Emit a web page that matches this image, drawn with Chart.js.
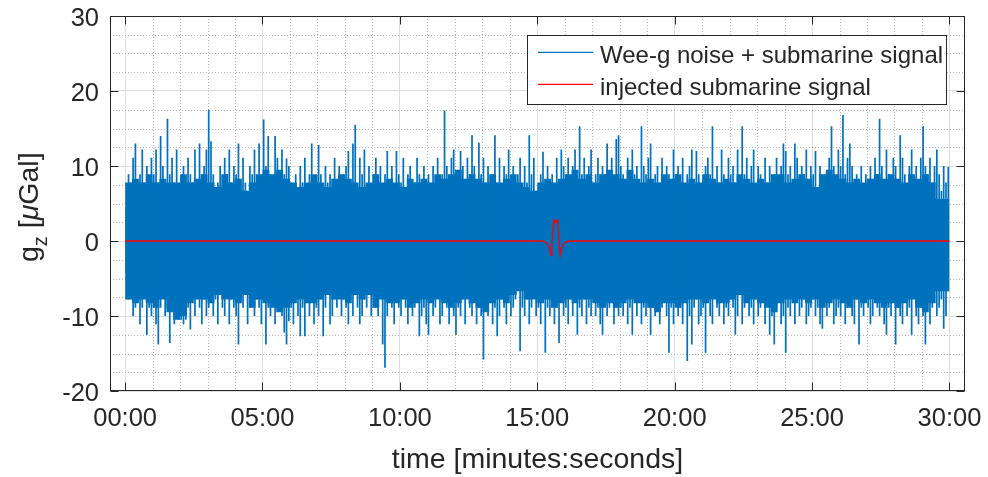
<!DOCTYPE html>
<html>
<head>
<meta charset="utf-8">
<script src="https://cdn.jsdelivr.net/npm/chart.js@4.4.1/dist/chart.umd.min.js"></script>
<style>
  html, body { margin: 0; padding: 0; background: #fff; }
  #wrap { width: 988px; height: 477px; }
</style>
</head>
<body>
<div id="wrap"><canvas id="chart" width="988" height="477"></canvas></div>
<script>
// slot widths, seconds
const SAMPLE_STEP = 5;
const BODY_STEP = 15;

// extreme of the record in each 5 s slot, µGal (00:00 .. 30:00), one row per minute
const noiseHigh = [
  4.5, 8.9, 7.8, 11.1, 13.0, 6.7, 8.9, 12.2, 7.8, 10.0, 6.7, 11.1,
  8.9, 12.2, 7.8, 14.0, 10.0, 6.7, 16.3, 8.9, 11.1, 7.8, 12.2, 6.7,
  7.8, 10.0, 5.6, 11.1, 8.9, 7.8, 12.2, 6.7, 13.0, 8.9, 10.0, 12.2,
  17.5, 13.3, 8.9, 5.6, 7.8, 10.0, 6.7, 11.1, 8.9, 12.2, 7.8, 10.0,
  8.9, 13.0, 6.7, 11.1, 7.8, 4.5, 10.0, 8.9, 12.2, 6.7, 13.0, 7.8,
  16.2, 10.0, 14.0, 8.9, 6.7, 14.0, 11.1, 7.8, 12.2, 8.9, 11.0, 10.0,
  7.8, 5.6, 8.9, 6.7, 10.0, 7.8, 11.1, 6.7, 8.9, 13.0, 3.5, 7.8,
  12.8, 8.9, 6.7, 10.0, 7.8, 8.9, 5.6, 11.1, 7.8, 10.0, 6.7, 8.9,
  10.0, 12.0, 7.8, 13.0, 15.5, 4.4, 11.1, 8.9, 12.2, 6.7, 10.0, 3.5,
  8.9, 11.1, 7.8, 10.0, 6.7, 8.9, 12.0, 7.8, 10.0, 5.6, 12.0, 8.9,
  7.8, 11.1, 6.7, 8.9, 10.0, 4.5, 7.8, 11.1, 8.9, 6.7, 10.0, 7.8,
  8.9, 5.6, 10.0, 7.8, 11.1, 6.7, 8.9, 17.4, 10.0, 7.8, 11.1, 12.2,
  8.9, 6.7, 12.0, 10.0, 7.8, 11.1, 8.9, 14.1, 10.0, 6.7, 13.1, 8.9,
  11.1, 7.8, 10.0, 5.6, 8.9, 14.1, 7.8, 11.1, 6.7, 10.0, 8.9, 12.2,
  7.8, 10.0, 6.7, 8.9, 11.1, 5.6, 10.0, 7.8, 14.1, 8.9, 11.1, 6.7,
  2.4, 8.9, 11.9, 7.8, 10.0, 5.6, 8.9, 6.7, 11.1, 7.8, 12.2, 10.0,
  8.9, 11.1, 6.7, 10.0, 12.2, 7.8, 15.3, 8.9, 11.1, 5.6, 10.0, 12.2,
  7.8, 8.9, 11.1, 6.7, 10.0, 8.9, 13.0, 7.8, 11.1, 5.6, 13.6, 14.1,
  10.0, 8.9, 6.7, 11.1, 7.8, 12.2, 8.9, 10.0, 6.7, 15.3, 10.0, 8.9,
  11.1, 13.0, 1.2, 8.9, 10.0, 7.8, 11.1, 6.7, 10.0, 8.9, 5.6, 12.2,
  8.9, 10.0, 7.8, 11.1, 6.7, 8.9, 10.0, 12.2, 7.8, 12.0, 8.9, 1.2,
  7.8, 10.0, 11.1, 8.9, 15.3, 6.7, 10.0, 7.8, 12.2, 8.9, 6.7, 11.1,
  8.9, 10.0, 7.8, 12.2, 6.7, 15.3, 8.9, 11.1, 7.8, 10.0, 12.2, 6.7,
  10.0, 8.9, 5.6, 11.1, 7.8, 10.0, 6.7, 8.9, 11.1, 7.8, 10.0, 13.0,
  12.0, 8.9, 10.0, 7.8, 13.0, 11.1, 6.7, 10.0, 8.9, 12.2, 7.8, 10.0,
  8.9, 12.0, 6.7, 10.0, 7.8, 3.5, 8.9, 11.1, 15.3, 10.0, 7.8, 12.2,
  10.0, 16.8, 8.9, 11.1, 13.0, 10.0, 7.8, 8.9, 6.7, 10.0, 3.5, 8.9,
  6.7, 10.0, 7.8, 11.1, 8.9, 16.3, 10.0, 7.8, 12.2, 8.9, 6.7, 11.1,
  10.0, 7.8, 14.1, 11.1, 8.9, 6.7, 10.0, 12.2, 7.8, 10.0, 5.6, 11.1,
  15.3, 10.0, 8.9, 11.1, 7.8, 10.0, 12.2, 8.9, 6.7, 10.0, 7.8, 9.9,
];

const noiseLow = [
  -4.0, -7.8, -6.7, -10.0, -8.9, -7.8, -11.1, -8.9, -6.7, -12.5, -8.9, -10.0,
  -7.8, -11.1, -13.8, -8.9, -6.7, -10.0, -8.9, -13.6, -7.8, -11.1, -8.9, -10.5,
  -10.5, -11.1, -10.5, -8.9, -11.8, -7.8, -10.0, -6.7, -8.9, -11.1, -7.8, -10.0,
  -8.9, -6.7, -10.0, -7.8, -11.1, -5.6, -8.9, -10.0, -6.7, -11.1, -7.8, -8.9,
  -10.0, -13.8, -7.8, -8.9, -6.7, -11.1, -8.9, -5.6, -10.0, -7.8, -8.9, -11.1,
  -7.8, -13.8, -8.9, -10.0, -6.7, -11.1, -8.9, -7.8, -10.0, -12.2, -13.8, -10.7,
  -8.9, -11.1, -7.8, -10.0, -12.7, -8.9, -12.7, -6.7, -10.0, -7.8, -11.1, -8.9,
  -10.0, -7.8, -12.7, -8.9, -6.7, -11.1, -10.0, -7.8, -8.9, -5.6, -10.0, -7.8,
  -8.9, -11.1, -7.8, -10.0, -6.7, -8.9, -11.1, -10.0, -7.8, -8.9, -5.6, -10.0,
  -7.8, -8.9, -10.0, -2.1, -13.8, -16.9, -10.0, -7.8, -8.9, -11.1, -6.7, -8.9,
  -10.0, -7.8, -8.9, -11.1, -6.7, -10.0, -8.9, -7.8, -12.7, -10.0, -8.9, -11.1,
  -12.5, -7.8, -10.0, -8.9, -6.7, -11.1, -10.0, -7.8, -8.9, -11.1, -7.8, -10.0,
  -12.5, -8.9, -10.0, -7.8, -11.1, -6.7, -8.9, -10.0, -7.8, -11.1, -8.9, -10.0,
  -15.8, -8.9, -10.0, -7.8, -11.1, -8.9, -12.7, -10.0, -7.8, -8.9, -11.1, -6.7,
  -10.0, -8.9, -7.8, -3.2, -14.7, -8.9, -10.0, -7.8, -11.1, -8.9, -6.7, -10.0,
  -8.9, -11.1, -7.8, -14.9, -8.9, -10.0, -6.7, -11.1, -8.9, -13.6, -7.8, -10.0,
  -8.9, -11.1, -7.8, -10.0, -6.7, -12.5, -8.9, -10.0, -7.8, -11.1, -8.9, -10.0,
  -7.8, -10.0, -8.9, -11.1, -12.5, -6.7, -10.0, -8.9, -7.8, -11.1, -8.9, -10.0,
  -8.9, -10.0, -7.8, -11.1, -8.9, -12.5, -6.7, -10.0, -7.8, -11.1, -8.9, -10.0,
  -7.8, -12.5, -8.9, -10.0, -6.7, -11.1, -8.9, -7.8, -10.0, -14.9, -8.9, -11.1,
  -7.8, -10.0, -8.9, -11.1, -6.7, -16.0, -10.0, -13.8, -8.9, -7.8, -11.1, -10.0,
  -8.9, -14.9, -7.8, -10.0, -11.1, -6.7, -8.9, -10.0, -7.8, -11.1, -8.9, -10.0,
  -7.8, -8.9, -12.5, -10.0, -6.7, -11.1, -8.9, -7.8, -10.0, -8.9, -11.1, -7.8,
  -10.0, -8.9, -6.7, -11.1, -7.8, -12.5, -10.0, -13.8, -8.9, -7.8, -11.1, -10.0,
  -14.9, -8.9, -10.0, -7.8, -11.1, -6.7, -10.0, -8.9, -7.8, -11.1, -10.0, -8.9,
  -7.8, -10.0, -8.9, -11.1, -11.7, -6.7, -10.0, -8.9, -7.8, -11.1, -10.0, -8.9,
  -10.0, -7.8, -11.1, -8.9, -6.7, -10.0, -11.1, -7.8, -13.8, -8.9, -10.0, -7.8,
  -8.9, -11.1, -10.0, -6.7, -8.9, -10.0, -7.8, -11.1, -12.5, -8.9, -10.0, -7.8,
  -13.8, -8.9, -10.0, -11.1, -7.8, -10.0, -8.9, -12.5, -6.7, -10.0, -11.1, -8.9,
  -10.0, -13.8, -7.8, -11.1, -8.9, -6.7, -10.0, -8.9, -7.8, -11.7, -10.0, -6.7,
];

// level the dense part of the trace fills in each 15 s slot, µGal
const bodyHigh = [
  4.5, 7.8, 8.3, 7.8,  8.9, 7.8, 8.3, 7.8,  7.8, 8.9, 7.8, 8.3,
  8.9, 7.8, 7.2, 8.9,  7.8, 8.3, 6.7, 7.8,  8.9, 9.5, 8.9, 9.5,
  8.3, 7.8, 7.2, 7.8,  8.9, 7.8, 7.2, 8.3,  8.9, 8.3, 7.8, 7.2,
  7.8, 8.9, 7.8, 8.3,  7.8, 7.2, 8.3, 7.8,  8.3, 7.8, 8.9, 8.3,
  8.9, 9.5, 8.3, 8.9,  8.3, 7.8, 8.9, 7.8,  8.3, 8.9, 7.8, 7.2,
  6.7, 7.8, 8.3, 7.8,  8.3, 8.9, 9.5, 8.3,  8.9, 7.8, 8.9, 9.5,
  8.9, 8.3, 9.5, 8.3,  7.8, 8.3, 7.8, 8.9,  8.3, 8.9, 7.8, 8.3,
  7.8, 8.9, 8.3, 7.8,  8.3, 7.8, 8.9, 8.3,  7.8, 8.3, 7.8, 8.9,
  8.9, 7.8, 8.3, 8.9,  8.3, 7.2, 8.9, 9.5,  8.9, 8.3, 7.8, 8.3,
  7.8, 8.3, 8.9, 8.3,  8.9, 8.3, 7.8, 8.9,  8.3, 8.9, 7.8, 5.6,
];

const bodyLow = [
  -4.0, -7.8, -8.3, -7.8,  -8.3, -8.9, -7.8, -9.5,  -10.5, -10.0, -8.3, -7.8,
  -7.8, -8.3, -7.2, -7.8,  -7.8, -8.3, -7.2, -8.9,  -7.8, -8.3, -8.9, -9.5,
  -8.9, -8.3, -7.8, -8.3,  -8.3, -7.8, -7.2, -7.8,  -7.8, -8.3, -7.2, -7.8,
  -7.2, -8.9, -7.8, -8.3,  -8.3, -7.8, -8.9, -8.3,  -7.8, -8.3, -7.8, -8.3,
  -8.9, -8.3, -7.8, -8.3,  -8.9, -9.5, -8.3, -7.8,  -8.3, -7.2, -6.7, -7.8,
  -7.8, -8.3, -7.8, -8.9,  -8.3, -7.8, -8.3, -7.8,  -7.8, -8.3, -8.9, -8.3,
  -8.9, -8.3, -7.8, -8.3,  -8.3, -8.9, -9.5, -8.3,  -8.3, -8.9, -8.3, -7.8,
  -7.8, -8.3, -7.8, -8.3,  -8.3, -7.8, -7.2, -8.3,  -7.8, -8.3, -8.9, -9.5,
  -8.3, -7.8, -8.3, -7.8,  -8.3, -7.8, -8.9, -8.3,  -7.8, -8.3, -8.9, -7.8,
  -8.3, -7.8, -8.3, -8.9,  -8.3, -8.9, -8.3, -7.8,  -8.9, -9.5, -8.3, -6.7,
];

// injected signal: zero except for the pass around 15:40
const signalTimes = [
  0, 910, 918, 923, 927, 930, 932, 933.5, 935, 936.5, 938.5, 940,
  941.5, 943.5, 945, 946.5, 948, 950, 953, 957, 962, 970, 1800,
];
const signalValues = [
  0, 0, -0.15, -0.45, -1.0, -1.9, -0.6, 1.0, 2.3, 2.8, 2.7, 2.5,
  2.7, 2.8, 2.3, 1.0, -0.6, -1.9, -1.0, -0.45, -0.15, 0, 0,
];

const seriesLabels = ["Wee-g noise + submarine signal", "injected submarine signal"];
const xTickLabels = ["00:00", "05:00", "10:00", "15:00", "20:00", "25:00", "30:00"];
const yTickValues = [-20, -10, 0, 10, 20, 30];

const FONT = "'Liberation Sans', Arial, Helvetica, sans-serif";
const AXIS_COLOR = "#262626";
const BLUE = "#0072bd";
const RED = "#ff0000";

const toSeconds = (label) => {
  const [m, s] = label.split(":").map(Number);
  return m * 60 + s;
};
const xTickValues = xTickLabels.map(toSeconds);

const noiseBars = noiseHigh.map((hi, i) => ({
  x: (i + 0.5) * SAMPLE_STEP,
  y: [noiseLow[i], hi],
}));

// stepped edges of the dense band; the last slot is closed at 30:00
const bodyEdge = (values) => {
  const pts = values.map((v, i) => ({ x: i * BODY_STEP, y: v }));
  pts.push({ x: values.length * BODY_STEP, y: values[values.length - 1] });
  return pts;
};

const signalPoints = signalTimes.map((t, i) => ({ x: t, y: signalValues[i] }));

const noTitlePadding = (s) => {
  s.paddingTop = 0;
  s.paddingBottom = 0;
  s.paddingLeft = 0;
  s.paddingRight = 0;
};

const axesDecor = {
  id: "axesDecor",
  beforeDatasetsDraw(chart) {
    // dotted minor grid
    const { ctx, chartArea: a, scales } = chart;
    const xs = scales.x, ys = scales.y;
    ctx.save();
    ctx.strokeStyle = "rgba(38,38,38,0.35)";
    ctx.lineWidth = 1;
    ctx.setLineDash([1, 2]);
    ctx.beginPath();
    for (let t = 60; t < xs.max; t += 60) {
      if (t % 300 === 0) continue;
      const px = Math.round(xs.getPixelForValue(t)) + 0.5;
      ctx.moveTo(px, a.top);
      ctx.lineTo(px, a.bottom);
    }
    for (let v = ys.min + 2.5; v < ys.max; v += 2.5) {
      if (v % 10 === 0) continue;
      const py = Math.round(ys.getPixelForValue(v)) + 0.5;
      ctx.moveTo(a.left, py);
      ctx.lineTo(a.right, py);
    }
    ctx.stroke();
    ctx.restore();
  },
  afterDraw(chart) {
    const { ctx, chartArea: a, scales } = chart;
    const xs = scales.x, ys = scales.y;
    const L = Math.round(a.left) + 0.5, R = Math.round(a.right) - 0.5;
    const T = Math.round(a.top) + 0.5, B = Math.round(a.bottom) - 0.5;
    const tick = 8;
    ctx.save();
    ctx.strokeStyle = AXIS_COLOR;
    ctx.lineWidth = 1;
    ctx.strokeRect(L, T, R - L, B - T);
    ctx.beginPath();
    xTickValues.forEach((v) => {
      const px = Math.round(xs.getPixelForValue(v)) + 0.5;
      ctx.moveTo(px, B); ctx.lineTo(px, B - tick);
      ctx.moveTo(px, T); ctx.lineTo(px, T + tick);
    });
    yTickValues.forEach((v) => {
      const py = Math.round(ys.getPixelForValue(v)) + 0.5;
      ctx.moveTo(L, py); ctx.lineTo(L + tick, py);
      ctx.moveTo(R, py); ctx.lineTo(R - tick, py);
    });
    ctx.stroke();

    // axis titles
    ctx.fillStyle = AXIS_COLOR;
    ctx.textBaseline = "alphabetic";
    ctx.textAlign = "center";
    ctx.font = "28.5px " + FONT;
    ctx.fillText("time [minutes:seconds]", (a.left + a.right) / 2, 468);

    ctx.save();
    ctx.translate(37.5, 262);
    ctx.rotate(-Math.PI / 2);
    ctx.textAlign = "left";
    let cx = 0;
    const put = (txt, font, dy) => {
      ctx.font = font;
      ctx.fillText(txt, cx, dy);
      cx += ctx.measureText(txt).width;
    };
    put("g", "28.5px " + FONT, 0);
    put("z", "20px " + FONT, 9);
    put(" [", "28.5px " + FONT, 0);
    put("\u03bc", "italic 28.5px " + FONT, 0);
    put("Gal]", "28.5px " + FONT, 0);
    ctx.restore();

    // legend
    const box = { x: 527.5, y: 35.5, w: 419, h: 69 };
    ctx.fillStyle = "#fff";
    ctx.fillRect(box.x, box.y, box.w, box.h);
    ctx.strokeStyle = AXIS_COLOR;
    ctx.strokeRect(box.x, box.y, box.w, box.h);
    const rows = [52.3, 84.3];
    [BLUE, RED].forEach((color, i) => {
      ctx.strokeStyle = color;
      ctx.lineWidth = 1.2;
      ctx.beginPath();
      ctx.moveTo(538, rows[i]);
      ctx.lineTo(593, rows[i]);
      ctx.stroke();
      ctx.fillStyle = AXIS_COLOR;
      ctx.font = "24px " + FONT;
      ctx.textAlign = "left";
      ctx.fillText(seriesLabels[i], 600, rows[i] + 11);
    });
    ctx.restore();
  },
};

Chart.defaults.font.family = FONT;

const chart = new Chart(document.getElementById("chart"), {
  type: "line",
  data: {
    datasets: [
      {
        label: seriesLabels[0],
        data: bodyEdge(bodyHigh),
        stepped: "after",
        borderWidth: 0,
        pointRadius: 0,
        backgroundColor: BLUE,
        fill: "+1",
        order: 3,
      },
      {
        label: seriesLabels[0],
        data: bodyEdge(bodyLow),
        stepped: "after",
        borderWidth: 0,
        pointRadius: 0,
        fill: false,
        order: 2,
      },
      {
        type: "bar",
        label: seriesLabels[0],
        data: noiseBars,
        backgroundColor: BLUE,
        borderWidth: 0,
        barPercentage: 0.75,
        categoryPercentage: 1,
        order: 1,
      },
      {
        label: seriesLabels[1],
        data: signalPoints,
        borderColor: RED,
        borderWidth: 1.3,
        pointRadius: 0,
        tension: 0,
        fill: false,
        order: 0,
      },
    ],
  },
  options: {
    responsive: false,
    animation: false,
    devicePixelRatio: 1,
    events: [],
    layout: { padding: { top: 16, right: 23, bottom: 0, left: 0 } },
    plugins: {
      legend: { display: false },
      tooltip: { enabled: false },
    },
    scales: {
      x: {
        type: "linear",
        min: -33,
        max: 1834,
        offset: false,
        afterBuildTicks: (s) => {
          s.ticks = xTickValues.map((v) => ({ value: v }));
        },
        afterFit: (s) => {
          s.height = 86;
          noTitlePadding(s);
        },
        ticks: {
          callback: (v) => xTickLabels[xTickValues.indexOf(v)],
          color: AXIS_COLOR,
          font: { size: 25.5 },
          padding: 13,
          maxRotation: 0,
          autoSkip: false,
        },
        grid: { color: "#dedede", drawTicks: false, offset: false },
        border: { display: false },
      },
      y: {
        min: -20,
        max: 30,
        afterBuildTicks: (s) => {
          s.ticks = yTickValues.map((v) => ({ value: v }));
        },
        afterFit: (s) => {
          s.width = 110;
          noTitlePadding(s);
        },
        ticks: {
          color: AXIS_COLOR,
          font: { size: 25.5 },
          padding: 11,
          labelOffset: 3,
        },
        grid: { color: "#dedede", drawTicks: false },
        border: { display: false },
      },
    },
  },
  plugins: [axesDecor],
});
</script>
</body>
</html>
